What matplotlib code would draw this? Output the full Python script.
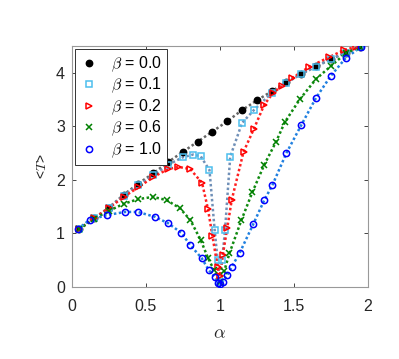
import matplotlib
matplotlib.use("Agg")
import matplotlib.pyplot as plt

# ---- data ----
x_b00 = [0.05, 0.15, 0.25, 0.35, 0.45, 0.55, 0.65, 0.75, 0.85, 0.95, 1.05, 1.15,
         1.25, 1.35, 1.45, 1.55, 1.65, 1.75, 1.85, 1.95]
y_b00 = [1.08, 1.28, 1.48, 1.72, 1.93, 2.12, 2.33, 2.52, 2.71, 2.90, 3.09, 3.30,
         3.48, 3.65, 3.82, 3.98, 4.12, 4.25, 4.37, 4.48]

x_b01 = [0.05, 0.15, 0.25, 0.35, 0.45, 0.55, 0.65, 0.75, 0.82, 0.87, 0.93, 0.965,
         0.985, 1.0, 1.015, 1.035, 1.07, 1.15, 1.23, 1.35, 1.45, 1.55, 1.65, 1.75,
         1.85, 1.95]
y_b01 = [1.08, 1.28, 1.48, 1.70, 1.90, 2.08, 2.28, 2.42, 2.47, 2.44, 2.18, 1.06,
         0.5, 0.1, 0.5, 1.06, 2.43, 3.06, 3.30, 3.62, 3.81, 3.97, 4.11, 4.25,
         4.37, 4.48]

x_b02 = [0.05, 0.15, 0.25, 0.35, 0.45, 0.55, 0.65, 0.72, 0.80, 0.88, 0.92, 0.95,
         0.985, 1.0, 1.02, 1.05, 1.08, 1.16, 1.23, 1.30, 1.36, 1.42, 1.49, 1.60,
         1.74, 1.84, 1.92]
y_b02 = [1.08, 1.28, 1.47, 1.68, 1.86, 2.05, 2.20, 2.24, 2.20, 1.94, 1.45, 0.95,
         0.37, 0.2, 0.6, 1.1, 1.62, 2.52, 2.95, 3.40, 3.62, 3.75, 3.90, 4.10,
         4.29, 4.42, 4.48]

x_b06 = [0.05, 0.15, 0.25, 0.35, 0.45, 0.55, 0.64, 0.73, 0.80, 0.87, 0.92, 0.96,
         1.0, 1.03, 1.065, 1.146, 1.22, 1.30, 1.38, 1.44, 1.54, 1.65, 1.75, 1.85,
         1.95]
y_b06 = [1.08, 1.27, 1.42, 1.55, 1.64, 1.68, 1.62, 1.47, 1.25, 0.88, 0.54, 0.32,
         0.1, 0.3, 0.63, 1.25, 1.77, 2.28, 2.71, 3.08, 3.50, 3.88, 4.12, 4.36,
         4.48]

x_b10 = [0.04, 0.12, 0.235, 0.36, 0.445, 0.56, 0.65, 0.74, 0.80, 0.877, 0.924,
         0.964, 0.99, 1.0, 1.02, 1.05, 1.079, 1.133, 1.227, 1.30, 1.355, 1.45,
         1.55, 1.65, 1.75, 1.85, 1.955]
y_b10 = [1.08, 1.25, 1.34, 1.40, 1.40, 1.31, 1.19, 1.01, 0.78, 0.54, 0.32,
         0.19, 0.07, 0.05, 0.1, 0.22, 0.37, 0.63, 1.18, 1.62, 1.90, 2.50,
         3.02, 3.53, 3.94, 4.27, 4.48]

labels = [r"$\beta$ = 0.0", r"$\beta$ = 0.1", r"$\beta$ = 0.2",
          r"$\beta$ = 0.6", r"$\beta$ = 1.0"]
x_ticks = [0, 0.5, 1, 1.5, 2]
x_ticklabels = ["0", "0.5", "1", "1.5", "2"]
y_ticks = [0, 1, 2, 3, 4]

# ---- style ----
plt.rcParams["font.family"] = ["Liberation Sans", "DejaVu Sans"]
plt.rcParams["mathtext.fontset"] = "cm"
fig = plt.figure(figsize=(3.99, 3.59), dpi=100)
ax = fig.add_axes([0.180, 0.2006, 0.742, 0.672])

series = [
    (x_b00, y_b00, "k", "0.4", "o", dict(markerfacecolor="k", markersize=4.5)),
    (x_b01, y_b01, "#4DBEEE", "#7090B8", "s", dict(markerfacecolor="none", markersize=4.5)),
    (x_b02, y_b02, "#FF0000", "#FF2020", ">", dict(markerfacecolor="none", markersize=5)),
    (x_b06, y_b06, "#008000", "#108A10", "x", dict(markersize=4)),
    (x_b10, y_b10, "#0000FF", "#2080E0", "o", dict(markerfacecolor="none", markersize=4.5)),
]

handles = []
for (xs, ys, mc, lc, mk, kw), lab in zip(series, labels):
    ax.plot(xs, ys, linestyle=(0, (1, 1)), color=lc, linewidth=1.8, zorder=2)
    h, = ax.plot(xs, ys, linestyle="none", marker=mk, color=mc,
                 markeredgewidth=1.1, zorder=3, label=lab, **kw)
    handles.append(h)

ax.set_xlim(0, 2)
ax.set_ylim(0, 4.5)
ax.set_xticks(x_ticks)
ax.set_xticklabels(x_ticklabels)
ax.set_yticks(y_ticks)
ax.tick_params(direction="in", top=True, right=True, length=3, width=0.6,
               labelsize=11.5, colors="0.15")
ax.tick_params(axis="x", pad=9)
ax.tick_params(axis="y", pad=5)
for sp in ax.spines.values():
    sp.set_color("0.6")
    sp.set_linewidth(0.8)

ax.set_xlabel(r"$\alpha$", fontsize=13, color="0.15", labelpad=8)
ax.set_ylabel(r"<$T$>", fontsize=10, color="0.15", labelpad=5)

leg = ax.legend(handles=handles, loc="upper left", fontsize=11.5,
                fancybox=False, edgecolor="0.2", framealpha=1,
                handlelength=1.0, handletextpad=0.9, labelspacing=0.13,
                borderpad=0.35, borderaxespad=0.2, numpoints=1)
leg.get_frame().set_linewidth(0.7)

fig.savefig("out.png", dpi=100)
